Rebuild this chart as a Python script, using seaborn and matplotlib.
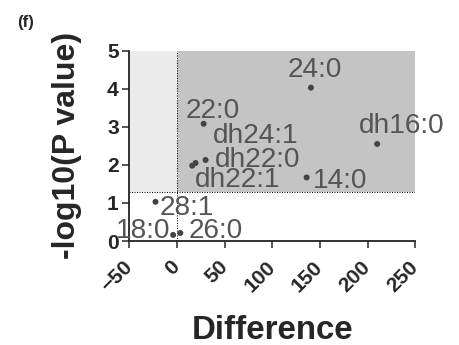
import matplotlib
matplotlib.use("Agg")
import matplotlib.pyplot as plt
import seaborn as sns
import pandas as pd

# lipid species, difference and -log10(P)
lipids = ["24:0", "dh16:0", "22:0", "dh24:1", "dh22:0", "dh22:1", "14:0", "28:1", "18:0", "26:0"]
difference = [140.5, 210.0, 28.0, 19.5, 30.0, 16.0, 136.0, -22.5, -4.0, 3.5]
neglog_p = [4.03, 2.55, 3.08, 2.05, 2.13, 1.98, 1.67, 1.03, 0.16, 0.21]

# label offsets (points) and horizontal alignment for each lipid
label_pos = {
    "24:0": ((4, 11), "center"),
    "dh16:0": ((25, 11), "center"),
    "22:0": ((9, 6), "center"),
    "dh24:1": ((17, 20), "left"),
    "dh22:0": ((9, -7), "left"),
    "dh22:1": ((3, -21), "left"),
    "14:0": ((6, -11), "left"),
    "28:1": ((4, -13), "left"),
    "18:0": ((-3, -3), "right"),
    "26:0": ((8, -5), "left"),
}

threshold = 1.3

df = pd.DataFrame({"lipid": lipids, "diff": difference, "p": neglog_p})

sns.set_style("ticks")
plt.rcParams["font.family"] = ["Liberation Sans", "DejaVu Sans"]

fig = plt.figure(figsize=(459 / 72, 345 / 72), dpi=72)
ax = fig.add_axes([0.2817, 0.3014, 0.6231, 0.5516])

# shaded significance regions
ax.fill_between([-50, 0], threshold, 5, color="#ececec", lw=0, zorder=0)
ax.fill_between([0, 250], threshold, 5, color="#c4c4c4", lw=0, zorder=0)
ax.axhline(threshold, color="black", ls=(0, (1, 1.5)), lw=1, zorder=1)
ax.axvline(0, color="black", ls=(0, (1, 1.5)), lw=1, zorder=1)

sns.scatterplot(data=df, x="diff", y="p", ax=ax, color="#444444", s=36,
                edgecolor="none", zorder=3)

for name, x, y in zip(lipids, difference, neglog_p):
    off, ha = label_pos[name]
    ax.annotate(name, (x, y), xytext=off, textcoords="offset points",
                ha=ha, va="baseline", fontsize=28, color="#555555",
                annotation_clip=False)

ax.set_xlim(-50, 250)
ax.set_ylim(0, 5)
ax.set_xticks([-50, 0, 50, 100, 150, 200, 250])
ax.set_yticks([0, 1, 2, 3, 4, 5])
ax.tick_params(axis="both", labelsize=21, width=1.5, length=7, color="#222222")
ax.tick_params(axis="x", pad=16)
for lab in ax.get_xticklabels():
    lab.set_rotation(45)
    lab.set_ha("right")
    lab.set_va("center")
    lab.set_rotation_mode("anchor")
for lab in ax.get_xticklabels() + ax.get_yticklabels():
    lab.set_fontweight("bold")

ax.set_xlabel("Difference", fontsize=33, fontweight="bold", labelpad=19)
ax.set_ylabel("-log10(P value)", fontsize=32, fontweight="bold", labelpad=25)

sns.despine(ax=ax)
for sp in ["left", "bottom"]:
    ax.spines[sp].set_linewidth(1.8)
    ax.spines[sp].set_color("#222222")

fig.text(0.037, 0.935, "(f)", fontsize=17, fontweight="bold", va="center")

fig.savefig("out.png", dpi=72)
